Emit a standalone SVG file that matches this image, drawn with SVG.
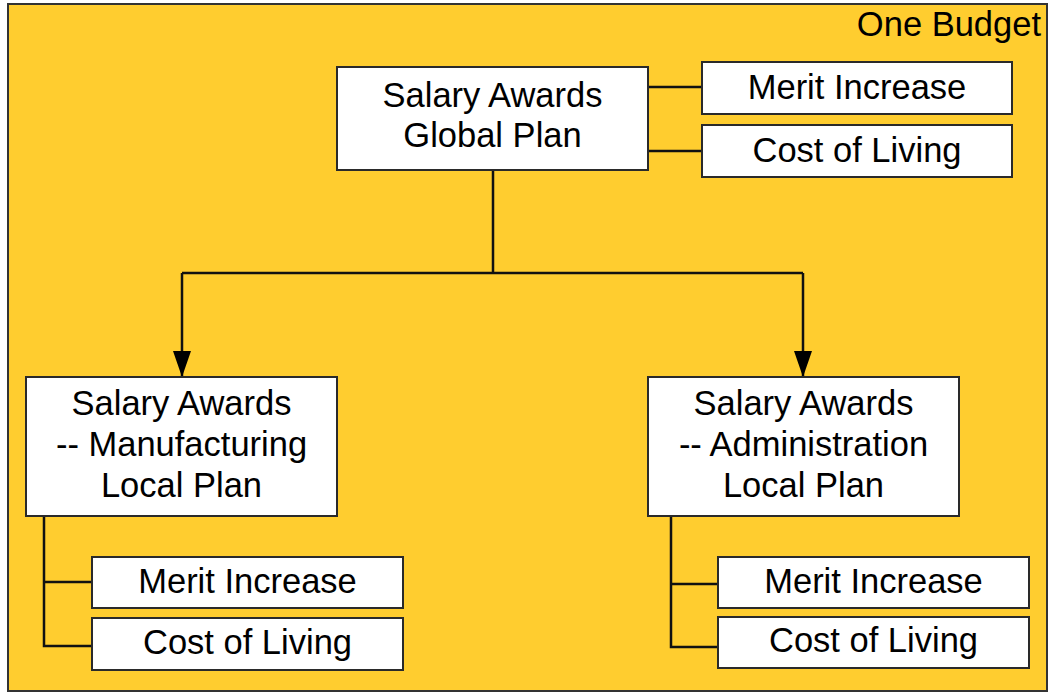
<svg xmlns="http://www.w3.org/2000/svg" width="1053" height="694" viewBox="0 0 1053 694">
<defs>
<style>
.box{fill:#ffffff;stroke:#2a2a2a;stroke-width:2}
.t{font-family:"Liberation Sans",Arial,sans-serif;font-size:34.5px;fill:#000;text-anchor:middle}
.ln{fill:none;stroke:#111;stroke-width:2.5}
</style>
<marker id="arr" markerWidth="26" markerHeight="18" refX="26" refY="9" orient="auto" markerUnits="userSpaceOnUse" viewBox="0 0 26 18">
<path d="M0,0 L26,9 L0,18 Z" fill="#000"/>
</marker>
</defs>
<rect width="1053" height="694" fill="#ffffff"/>
<g id="one-budget">
<rect x="8" y="4" width="1039" height="687" fill="#FFCD2F" stroke="#333" stroke-width="2"/>
<text class="t" x="1041" y="36" style="text-anchor:end">One Budget</text>
</g>
<g id="connectors">
<path class="ln" d="M493,170 V273 M182,273 H803"/>
<path class="ln" d="M182,273 V377" marker-end="url(#arr)"/>
<path class="ln" d="M803,273 V377" marker-end="url(#arr)"/>
<path class="ln" d="M648,87 H702 M648,151 H702"/>
<path class="ln" d="M44,516 V646 H92 M44,582 H92"/>
<path class="ln" d="M671,516 V647 H718 M671,584 H718"/>
</g>
<g id="global-plan">
<rect class="box" x="337" y="67" width="311" height="103"/>
<text class="t" x="492.5" y="107">Salary Awards</text>
<text class="t" x="492.5" y="147">Global Plan</text>
</g>
<g id="global-merit">
<rect class="box" x="702" y="62" width="310" height="52"/>
<text class="t" x="857" y="99">Merit Increase</text>
</g>
<g id="global-col">
<rect class="box" x="702" y="125" width="310" height="52"/>
<text class="t" x="857" y="162">Cost of Living</text>
</g>
<g id="mfg-plan">
<rect class="box" x="26" y="377" width="311" height="139"/>
<text class="t" x="181.5" y="415">Salary Awards</text>
<text class="t" x="181.5" y="456">-- Manufacturing</text>
<text class="t" x="181.5" y="497">Local Plan</text>
</g>
<g id="mfg-merit">
<rect class="box" x="92" y="557" width="311" height="51"/>
<text class="t" x="247.5" y="593">Merit Increase</text>
</g>
<g id="mfg-col">
<rect class="box" x="92" y="618" width="311" height="52"/>
<text class="t" x="247.5" y="654">Cost of Living</text>
</g>
<g id="admin-plan">
<rect class="box" x="648" y="377" width="311" height="139"/>
<text class="t" x="803.5" y="415">Salary Awards</text>
<text class="t" x="803.5" y="456">-- Administration</text>
<text class="t" x="803.5" y="497">Local Plan</text>
</g>
<g id="admin-merit">
<rect class="box" x="718" y="557" width="311" height="51"/>
<text class="t" x="873.5" y="593">Merit Increase</text>
</g>
<g id="admin-col">
<rect class="box" x="718" y="617" width="311" height="51"/>
<text class="t" x="873.5" y="652">Cost of Living</text>
</g>
</svg>
